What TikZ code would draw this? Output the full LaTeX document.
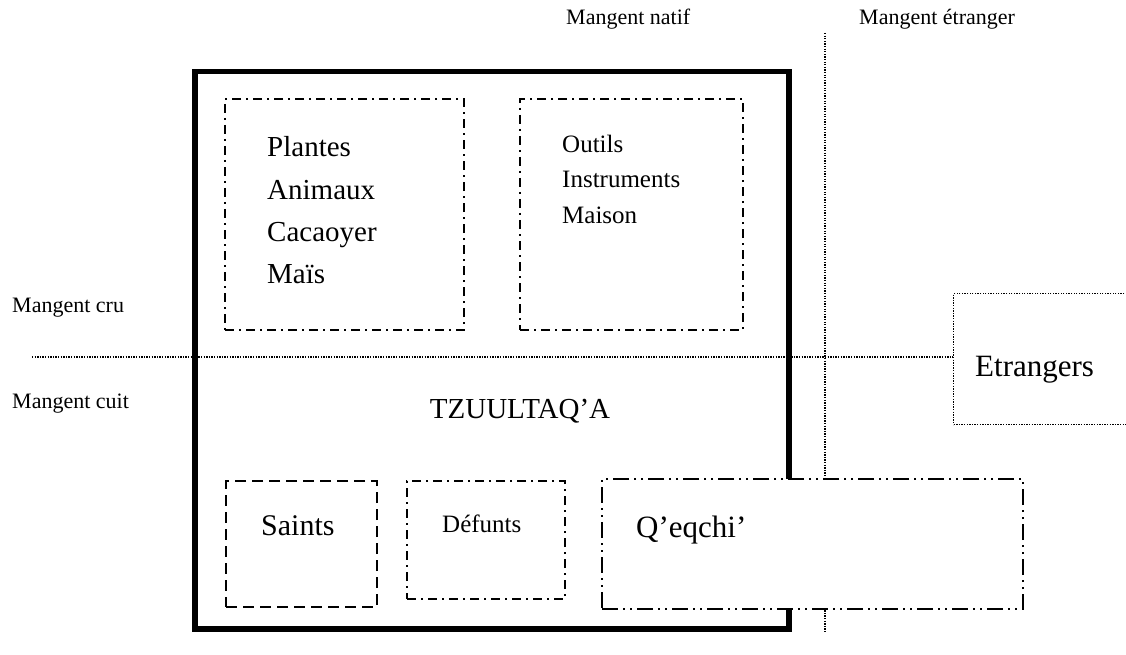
\documentclass[tikz,border=0pt]{standalone}
\usepackage{fontspec}
\setmainfont{Liberation Serif}
\usetikzlibrary{positioning}
\tikzset{
  bigbox/.style={draw, line width=5.5pt, rectangle, inner sep=0pt},
  dotbox/.style={draw, line width=1.3pt, dash pattern=on 1.3pt off 1.3pt, rectangle, inner sep=0pt},
  dashbox/.style={draw, line width=2pt, dash pattern=on 11pt off 6pt, rectangle, inner sep=0pt},
  dotdashbox/.style={draw, line width=2pt, dash pattern=on 9pt off 5pt on 2pt off 5pt, rectangle, inner sep=0pt},
  dotdotbox/.style={draw, line width=2pt, dash pattern=on 16pt off 5pt on 2pt off 5pt on 2pt off 5pt, rectangle, inner sep=0pt},
  dotline/.style={line width=1.3pt, dash pattern=on 1.3pt off 1.3pt},
  lbl/.style={anchor=base west, inner sep=0pt},
}
\newcommand{\fs}[1]{\fontsize{#1}{#1}\selectfont}
\begin{document}
\begin{tikzpicture}[x=1pt,y=-1pt]
\useasboundingbox (0,0) rectangle (1126,655);
% axis labels
\node[lbl, font=\fs{22}] (natif) at (566,25) {Mangent natif};
\node[lbl, font=\fs{22}] (etranger) at (859,25) {Mangent étranger};
\node[lbl, font=\fs{22}] (cru) at (12,312) {Mangent cru};
\node[lbl, font=\fs{22}] (cuit) at (12,408) {Mangent cuit};

% big box
\node[bigbox, minimum width=594pt, minimum height=557pt, anchor=north west] (tzbox) at (192,69) {};

% Etrangers box (runs off the right edge)
\node[dotbox, minimum width=220pt, minimum height=131pt, anchor=north west] (etrbox) at (953,293) {};
\node[lbl, font=\fs{31}] (etr) at (975,376) {Etrangers};

% dotted axes
\coordinate (hl) at (32,357);
\coordinate (vt) at (825,33);
\coordinate (vb) at (825,632);
\draw[dotline] (hl) -- (hl -| etrbox.west);
\draw[dotline] (vt) -- (vb);

% upper boxes
\node[dotdashbox, minimum width=239pt, minimum height=231pt, anchor=north west] (plbox) at (224,98) {};
\node[lbl, font=\fs{29}] (pl1) at (267,157) {Plantes};
\node[lbl, font=\fs{29}] (pl2) at (267,199) {Animaux};
\node[lbl, font=\fs{29}] (pl3) at (267,241) {Cacaoyer};
\node[lbl, font=\fs{29}] (pl4) at (267,283) {Maïs};

\node[dotdashbox, minimum width=223pt, minimum height=231pt, anchor=north west] (oubox) at (519,98) {};
\node[lbl, font=\fs{25}] (ou1) at (562,153) {Outils};
\node[lbl, font=\fs{25}] (ou2) at (562,188) {Instruments};
\node[lbl, font=\fs{25}] (ou3) at (562,223) {Maison};

% title
\node[anchor=base, inner sep=0pt, font=\fs{29}] (tz) at (520,418) {TZUULTAQ’A};

% lower boxes
\node[dashbox, minimum width=151pt, minimum height=126pt, anchor=north west] (sabox) at (225,480) {};
\node[lbl, font=\fs{30}] (sa) at (261,535) {Saints};
\node[dotdashbox, minimum width=158pt, minimum height=118pt, anchor=north west] (debox) at (406,480) {};
\node[lbl, font=\fs{25}] (de) at (442,532) {Défunts};
\node[dotdotbox, fill=white, minimum width=421pt, minimum height=130pt, anchor=north west] (qebox) at (601,478) {};
\node[lbl, font=\fs{31}] (qe) at (636,537) {Q’eqchi’};
\end{tikzpicture}
\end{document}
